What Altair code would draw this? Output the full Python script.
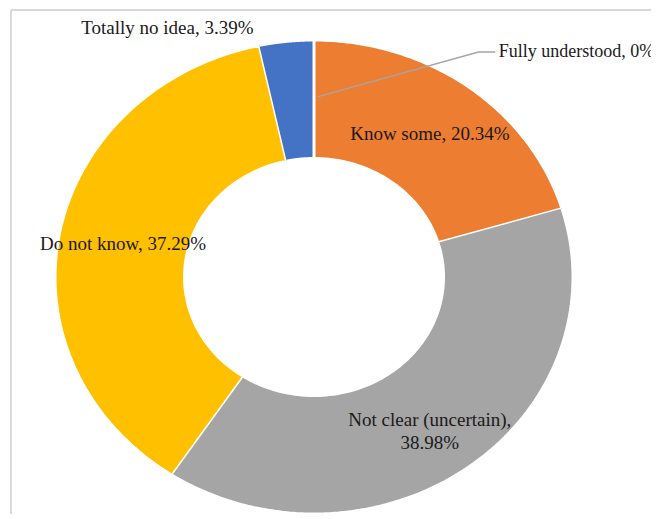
import altair as alt
import pandas as pd

# ---- data ----
categories = ["Fully understood", "Know some", "Not clear (uncertain)", "Do not know", "Totally no idea"]
values = [0.0, 20.34, 38.98, 37.29, 3.39]
labels = ["Fully understood, 0%", "Know some, 20.34%", "Not clear (uncertain),\n38.98%",
          "Do not know, 37.29%", "Totally no idea, 3.39%"]
colors = ["#4472C4", "#ED7D31", "#A5A5A5", "#FFC000", "#4472C4"]
inside = ["Know some", "Not clear (uncertain)", "Do not know"]

df = pd.DataFrame({"category": categories, "value": values, "label": labels,
                   "order": list(range(len(categories)))})

# ---- styling / layout ----
N = 90
INNER = 0.5
W, H = 643, 506
xs = alt.Scale(domain=[-1.1815, 1.3011], nice=False, zero=False)
ys = alt.Scale(domain=[-1.0, 1.135], nice=False, zero=False)
FONT = "Liberation Serif"
FS = 19
TXT = "#1a1a1a"
cscale = alt.Scale(domain=categories, range=colors)

# callout for the zero slice (data units)
callout = pd.DataFrame({"x": [0.012, 0.635, 0.70], "y": [0.76, 0.949, 0.949], "k": [0, 1, 2]})
callout_text = pd.DataFrame({"x": [0.713], "y": [0.949], "label": [labels[0]]})

base = alt.Chart(df).transform_window(
    cum="sum(value)", sort=[alt.SortField("order")], frame=[None, 0]
).transform_calculate(
    a0="2*PI*(datum.cum - datum.value)/100",
    a1="2*PI*datum.cum/100",
)

ring = base.transform_calculate(
    idx=f"sequence(0, {2 * N + 2})"
).transform_flatten(["idx"]).transform_calculate(
    t=f"datum.idx <= {N} ? datum.a0 + (datum.a1 - datum.a0) * datum.idx / {N} "
      f": datum.a1 - (datum.a1 - datum.a0) * (datum.idx - {N + 1}) / {N}",
    r=f"datum.idx <= {N} ? 1 : {INNER}",
).transform_calculate(
    px="datum.r * sin(datum.t)",
    py="datum.r * cos(datum.t)",
).mark_line(filled=True, stroke="white", strokeWidth=3, strokeJoin="round").encode(
    x=alt.X("px:Q", scale=xs, axis=None),
    y=alt.Y("py:Q", scale=ys, axis=None),
    color=alt.Color("category:N", scale=cscale, legend=None),
    detail="category:N",
    order=alt.Order("idx:Q"),
)

mids = base.transform_calculate(mid="(datum.a0 + datum.a1) / 2")

in_labels = mids.transform_filter(
    alt.FieldOneOfPredicate(field="category", oneOf=inside)
).transform_calculate(
    lx="0.75 * sin(datum.mid)", ly="0.75 * cos(datum.mid)"
).mark_text(font=FONT, fontSize=FS, color=TXT, lineBreak="\n", lineHeight=23).encode(
    x=alt.X("lx:Q", scale=xs, axis=None),
    y=alt.Y("ly:Q", scale=ys, axis=None),
    text="label:N",
)

small_label = mids.transform_filter(
    alt.datum.category == "Totally no idea"
).transform_calculate(
    lx="sin(datum.mid)", ly="cos(datum.mid)"
).mark_text(font=FONT, fontSize=FS, color=TXT, align="right", dx=-33, dy=-13).encode(
    x=alt.X("lx:Q", scale=xs, axis=None),
    y=alt.Y("ly:Q", scale=ys, axis=None),
    text="label:N",
)

leader = alt.Chart(callout).mark_line(color="#A5A5A5", strokeWidth=1.5).encode(
    x=alt.X("x:Q", scale=xs, axis=None),
    y=alt.Y("y:Q", scale=ys, axis=None),
    order="k:Q",
)

zero_label = alt.Chart(callout_text).mark_text(font=FONT, fontSize=18, color=TXT, align="left").encode(
    x=alt.X("x:Q", scale=xs, axis=None),
    y=alt.Y("y:Q", scale=ys, axis=None),
    text="label:N",
)

frame_top = alt.Chart(df).mark_rule(color="#D9D9D9", strokeWidth=1.5).encode(
    x=alt.value(3), x2=alt.value(W), y=alt.value(2)
)
frame_left = alt.Chart(df).mark_rule(color="#D9D9D9", strokeWidth=1.5).encode(
    x=alt.value(3), y=alt.value(2), y2=alt.value(H)
)

chart = alt.layer(
    frame_top, frame_left, ring, leader, in_labels, small_label, zero_label
).properties(
    width=W, height=H, padding=0, autosize=alt.AutoSizeParams(type="none")
).configure_view(stroke=None)

chart.save("out.html", embed_options={"renderer": "svg", "actions": False})
